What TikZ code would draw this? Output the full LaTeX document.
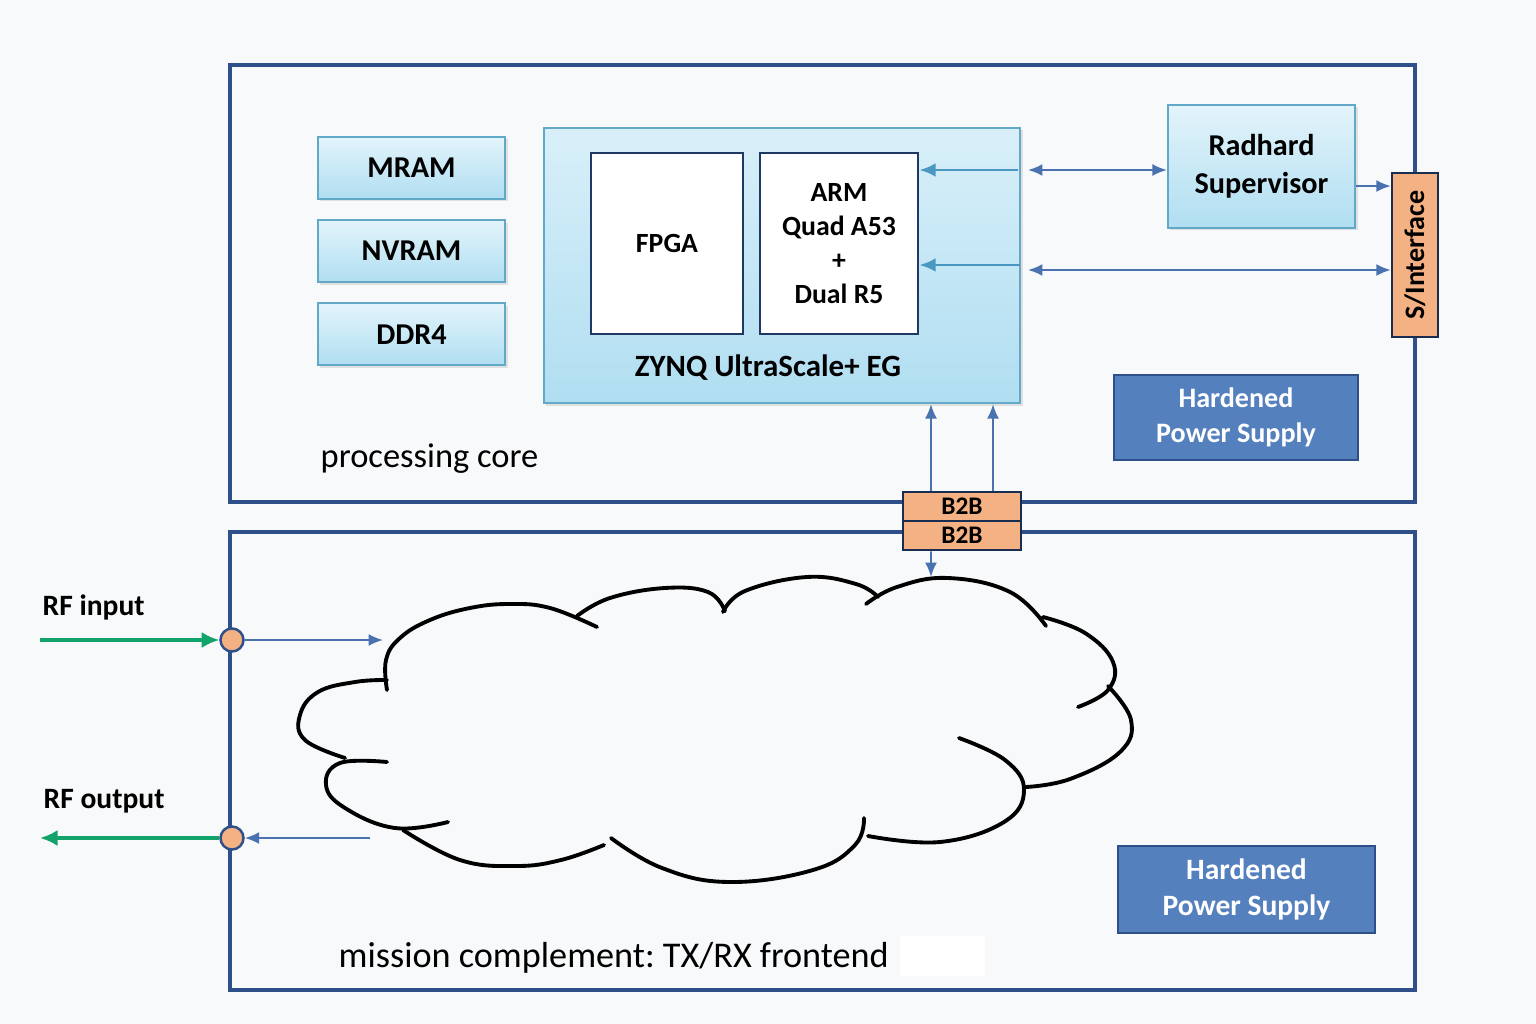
\documentclass[tikz,border=0pt]{standalone}
\usepackage{fontspec}
\setmainfont{Carlito}
\usetikzlibrary{positioning,shadows,arrows.meta}
\definecolor{paper}{HTML}{F8F9FA}
\definecolor{navy}{HTML}{2F4F8A}
\definecolor{deepnavy}{HTML}{1F3864}
\definecolor{skyline}{HTML}{62A9C8}
\definecolor{skytop}{HTML}{E3F4FB}
\definecolor{skybot}{HTML}{B0DEF1}
\definecolor{linkblue}{HTML}{4A72B0}
\definecolor{zynqblue}{HTML}{4A98C2}
\definecolor{peach}{HTML}{F4B183}
\definecolor{power}{HTML}{5580BE}
\definecolor{rfgreen}{HTML}{12A36B}

\begin{document}
\begin{tikzpicture}[
    x=0.01cm, y=-0.01cm,
    >={Latex[length=4.1pt,width=3.4pt]},
    frame/.style={draw=navy, line width=0.9pt},
    lightbox/.style={draw=skyline, line width=0.6pt, top color=skytop, bottom color=skybot,
        drop shadow={shadow xshift=0.7pt, shadow yshift=-0.7pt, opacity=0.2},
        font=\fontsize{8.6}{10.8}\selectfont\bfseries, align=center, inner sep=0pt},
    chipbox/.style={draw=deepnavy, line width=0.75pt, fill=white,
        font=\fontsize{7.9}{9.7}\selectfont\bfseries, align=center, inner sep=0pt},
    powerbox/.style={draw=navy, line width=0.75pt, fill=power, text=white,
        font=\fontsize{8}{9.8}\selectfont\bfseries, align=center, inner sep=0pt},
    b2bbox/.style={draw=deepnavy!80!black, line width=0.7pt, fill=peach,
        font=\fontsize{7.2}{8}\selectfont\bfseries, minimum width=1.18cm, minimum height=0.29cm, inner sep=0pt},
    rfport/.style={circle, draw=navy, line width=0.7pt, fill=peach, minimum size=0.23cm, inner sep=0pt},
    rflabel/.style={anchor=west, font=\fontsize{8.4}{10}\selectfont\bfseries, inner sep=0pt},
    caption/.style={anchor=west, font=\fontsize{9.8}{12}\selectfont\frenchspacing, inner sep=0pt},
    link/.style={draw=linkblue, line width=0.55pt, ->},
    zlink/.style={draw=zynqblue, line width=0.85pt, -{Latex[length=4.6pt,width=3.9pt]}},
    rfline/.style={draw=rfgreen, line width=1.1pt, -{Latex[length=5pt,width=4.6pt]}},
    cloudline/.style={draw=black, line width=1.1pt, line cap=round}
]

% page
\fill[paper] (0,0) rectangle (1536,1024);

% Frames
\draw[frame] (230,65) rectangle (1415,502);
\draw[frame] (230,532) rectangle (1415,990);

% Memories
\node[lightbox, minimum width=1.87cm, minimum height=0.62cm] (mram) at (411.5,168) {MRAM};
\node[lightbox, minimum width=1.87cm, minimum height=0.62cm, below=0.19cm of mram] (nvram) {NVRAM};
\node[lightbox, minimum width=1.87cm, minimum height=0.62cm, below=0.19cm of nvram] (ddr) {DDR4};

% ZYNQ
\node[lightbox, minimum width=4.76cm, minimum height=2.75cm, top color=skytop!80!skybot] (zynq) at (782,265.5) {};
\node[chipbox, minimum width=1.52cm, minimum height=1.81cm] (fpga) at (667,243.5) {FPGA};
\node[chipbox, minimum width=1.58cm, minimum height=1.81cm] (arm) at (839,243.5) {ARM\\Quad A53\\+\\Dual R5};
\node[font=\fontsize{8.8}{10}\selectfont\bfseries] (zynqname) at (768,368) {ZYNQ UltraScale+ EG};

% Supervisor and interface
\node[lightbox, minimum width=1.87cm, minimum height=1.23cm] (sup) at (1261.5,166.5) {Radhard\\Supervisor};
\node[b2bbox, rotate=90, minimum width=1.64cm, minimum height=0.46cm,
      font=\fontsize{8}{9}\selectfont\bfseries] (sif) at (1415,255) {S/Interface};

% Power
\node[powerbox, minimum width=2.44cm, minimum height=0.85cm] (pwrtop) at (1236,417.5) {Hardened\\Power Supply};
\node[powerbox, minimum width=2.57cm, minimum height=0.87cm,
      font=\fontsize{8.4}{10.3}\selectfont\bfseries] (pwrbot) at (1246.5,889.5) {Hardened\\Power Supply};

% Board to board
\node[b2bbox] (b2btop) at (962,506.5) {B2B};
\node[b2bbox, below=-0.7pt of b2btop] (b2bbot) {B2B};

% Links
\coordinate (zin1) at (1018,170);
\coordinate (zin2) at (1020,265);
\coordinate (zout1) at (1028,170);
\coordinate (zout2) at (1028,270);
\draw[zlink] (zin1) -- (arm.east |- zin1);
\draw[zlink] (zin2) -- (arm.east |- zin2);
\draw[link, <->] (zout1) -- (sup.west |- zout1);
\draw[link, <->] (zout2) -- (sif.north |- zout2);
\draw[link] ([yshift=-0.195cm]sup.east) -- ([yshift=-0.195cm]sup.east -| sif.north);
\draw[link] ([xshift=-0.31cm]b2btop.north) -- ([xshift=-0.31cm]b2btop.north |- zynq.south);
\draw[link] ([xshift=0.31cm]b2btop.north) -- ([xshift=0.31cm]b2btop.north |- zynq.south);
\coordinate (cloudtop) at (931,577);
\draw[link] ([xshift=-0.31cm]b2bbot.south) -- (cloudtop);

% Cloud
\draw[cloudline] plot[smooth, tension=0.7] coordinates {(387,690) (386,660) (400,638) (430,620) (470,608) (510,604) (550,608) (597,627)};
\draw[cloudline] plot[smooth, tension=0.7] coordinates {(577,616) (610,598) (665,588) (708,592) (725,611)};
\draw[cloudline] plot[smooth, tension=0.7] coordinates {(723,612) (745,591) (807,577) (856,584) (878,597)};
\draw[cloudline] plot[smooth, tension=0.7] coordinates {(866,604) (897,587) (948,578) (1010,592) (1046,626)};
\draw[cloudline] plot[smooth, tension=0.7] coordinates {(1043,617) (1085,633) (1113,662) (1108,690) (1078,707)};
\draw[cloudline] plot[smooth, tension=0.7] coordinates {(1108,686) (1131,720) (1120,752) (1070,779) (1026,787)};
\draw[cloudline] plot[smooth, tension=0.7] coordinates {(959,738) (1005,760) (1024,790) (1004,822) (940,842) (868,836)};
\draw[cloudline] plot[smooth, tension=0.7] coordinates {(864,818) (855,845) (813,870) (729,882) (662,868) (611,838)};
\draw[cloudline] plot[smooth, tension=0.7] coordinates {(604,845) (561,860) (516,866) (460,860) (403,830)};
\draw[cloudline] plot[smooth, tension=0.7] coordinates {(448,822) (395,828) (345,808) (326,785) (340,763) (387,762)};
\draw[cloudline] plot[smooth, tension=0.7] coordinates {(345,758) (305,740) (300,715) (318,692) (355,682) (387,680)};

% RF ports
\node[rfport] (rfin) at (232,640) {};
\node[rfport] (rfout) at (232,838) {};
\coordinate (inwire) at (40,640);
\coordinate (outwire) at (40,838);
\coordinate (cloudin) at (383,640);
\coordinate (cloudout) at (370,838);
\draw[rfline] (inwire) -- (rfin);
\draw[rfline] (rfout) -- (outwire);
\draw[link] (rfin) -- (cloudin);
\draw[link] (cloudout) -- (rfout);
\node[rflabel] (inlabel) at (42,607) {RF input};
\node[rflabel] (outlabel) at (43,801) {RF output};

% Captions
\node[caption] (corelabel) at (320,459) {processing core};
\node[caption, font=\fontsize{10.3}{12}\selectfont\frenchspacing] (missionlabel) at (338,958) {mission complement: TX/RX frontend};
\fill[white] (900,936) rectangle (985,976);

\end{tikzpicture}
\end{document}
